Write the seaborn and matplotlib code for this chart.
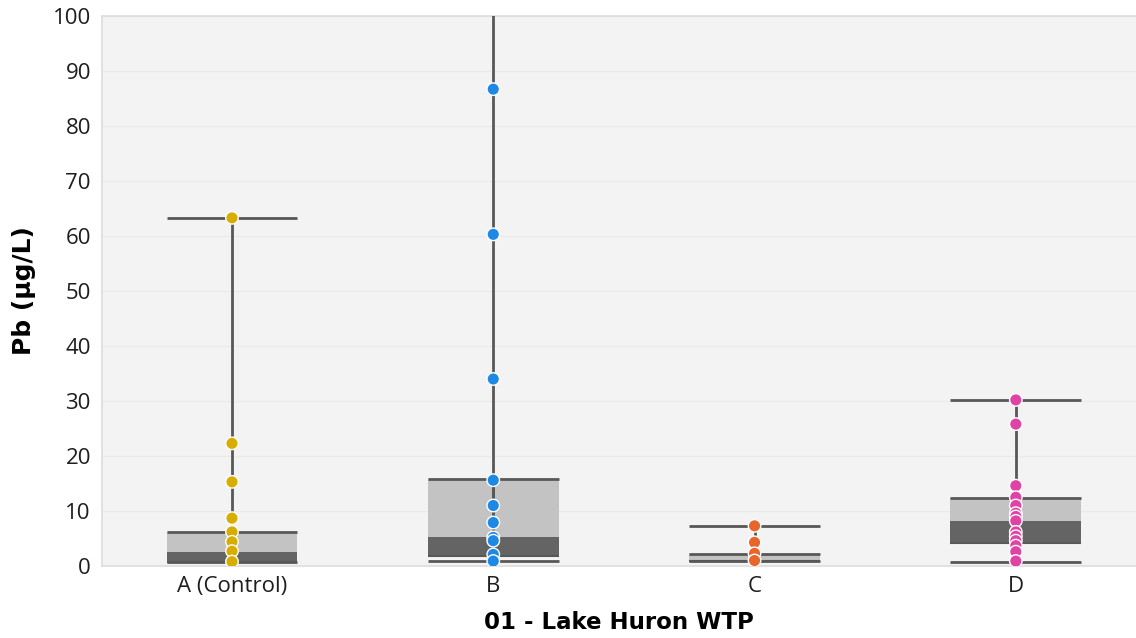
import numpy as np
import pandas as pd
import seaborn as sns
import matplotlib.pyplot as plt

# Sampling sites
groups = ["A (Control)", "B", "C", "D"]

# Lead concentrations (µg/L) per site
pb_a = [63.3, 22.3, 15.3, 8.7, 6.2, 4.4, 2.7, 0.8]
pb_b = [150.0, 86.7, 60.3, 34.0, 15.6, 11.0, 7.9, 5.2, 4.6, 2.1, 0.9]
pb_c = [7.3, 4.3, 2.3, 1.0]
pb_d = [30.2, 25.8, 14.6, 12.5, 11.0, 9.6, 9.0, 8.2, 6.2, 5.4, 4.6, 3.7, 2.6, 0.9]

# Box summary per site
whisker_lo = [0.8, 0.9, 0.9, 0.8]
q1 = [0.8, 1.9, 0.9, 4.1]
median = [2.6, 5.2, 1.0, 8.2]
q3 = [6.2, 15.8, 2.1, 12.3]
whisker_hi = [63.3, 150.0, 7.3, 30.2]

point_colors = ["#d6ad00", "#1e88e5", "#e8652c", "#e043a6"]

df = pd.concat(
    [pd.DataFrame({"site": g, "pb": v}) for g, v in zip(groups, [pb_a, pb_b, pb_c, pb_d])],
    ignore_index=True,
)

sns.set_theme(style="white")
plt.rcParams["font.family"] = ["Open Sans", "DejaVu Sans"]

fig = plt.figure(figsize=(11.36, 6.38), dpi=100)
ax = fig.add_axes([102 / 1136, 1 - 566 / 638, 1 - 102 / 1136, (566 - 16) / 638])
ax.set_facecolor("#f3f3f3")

x = np.arange(len(groups))
box_w = 0.5
dark = "#646464"
light = "#c3c3c3"
line_c = "#585858"

# Whiskers and caps
ax.vlines(x, whisker_lo, whisker_hi, color=line_c, lw=2, zorder=3)
ax.hlines(whisker_hi, x - box_w / 2, x + box_w / 2, color=line_c, lw=2, zorder=3)
ax.hlines(whisker_lo, x - box_w / 2, x + box_w / 2, color=line_c, lw=2, zorder=3)

# Two-tone boxes: Q1-median dark, median-Q3 light
q1a, meda, q3a = np.array(q1), np.array(median), np.array(q3)
ax.bar(x, meda - q1a, bottom=q1a, width=box_w, color=dark, zorder=2, linewidth=0)
ax.bar(x, q3a - meda, bottom=meda, width=box_w, color=light, zorder=2, linewidth=0)
ax.hlines(q3, x - box_w / 2, x + box_w / 2, color=line_c, lw=2, zorder=3)
ax.hlines(q1, x - box_w / 2, x + box_w / 2, color=line_c, lw=1.5, zorder=3)
ax.vlines(x, q1, q3, color=line_c, lw=2, zorder=2.5)

sns.stripplot(
    data=df, x="site", y="pb", hue="site", palette=point_colors,
    jitter=False, size=9, edgecolor="white", linewidth=1,
    legend=False, ax=ax, zorder=5,
)

ax.set_ylim(0, 100)
ax.set_xlim(-0.4975, 3.46)
ax.set_yticks(np.arange(0, 101, 10))
ax.yaxis.grid(True, color="#ebebeb", lw=1)
ax.set_axisbelow(True)

for side in ["left", "bottom", "top"]:
    ax.spines[side].set_color("#dddddd")
    ax.spines[side].set_linewidth(1.2)
ax.spines["right"].set_visible(False)

ax.tick_params(axis="both", length=0, labelsize=16, colors="#1e1e1e")
ax.tick_params(axis="y", pad=8)
ax.tick_params(axis="x", pad=7)

ax.set_xlabel("01 - Lake Huron WTP", fontsize=16.5, fontweight="heavy",
              family="DejaVu Sans", color="black", labelpad=10)
ax.set_ylabel("Pb (µg/L)", fontsize=18, fontweight="heavy",
              family="DejaVu Sans", color="black", labelpad=12)

fig.savefig("out.png", dpi=100)
